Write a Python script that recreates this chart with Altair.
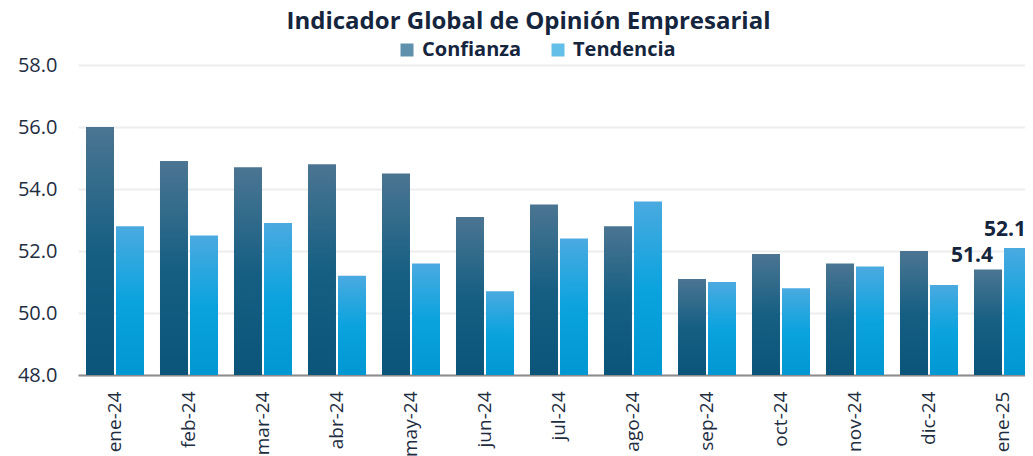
import altair as alt
import pandas as pd

meses = ["ene-24", "feb-24", "mar-24", "abr-24", "may-24", "jun-24", "jul-24",
         "ago-24", "sep-24", "oct-24", "nov-24", "dic-24", "ene-25"]
confianza = [56.0, 54.9, 54.7, 54.8, 54.5, 53.1, 53.5, 52.8, 51.1, 51.9, 51.6, 52.0, 51.4]
tendencia = [52.8, 52.5, 52.9, 51.2, 51.6, 50.7, 52.4, 53.6, 51.0, 50.8, 51.5, 50.9, 52.1]
series = ["Confianza", "Tendencia"]
y_ticks = [48, 50, 52, 54, 56, 58]

rows = []
for m, c, t in zip(meses, confianza, tendencia):
    rows.append({"mes": m, "serie": "Confianza", "valor": c})
    rows.append({"mes": m, "serie": "Tendencia", "valor": t})
df = pd.DataFrame(rows)

DARK = "#14253d"

def grad(stops):
    return {"gradient": "linear", "x1": 0, "x2": 0, "y1": 0, "y2": 1,
            "stops": [{"offset": o, "color": c} for o, c in stops]}

x_enc = alt.X("mes:N", sort=meses, title=None,
              scale=alt.Scale(domain=meses, paddingInner=0.216, paddingOuter=0.108, range=[0, 962]),
              axis=alt.Axis(labelAngle=-90, labelFont="Open Sans", labelFontSize=19,
                            labelColor="#1e2d3f", labelPadding=16, ticks=False,
                            domainColor="#8c8c8c", domainWidth=2, grid=False))
xo_enc = alt.XOffset("serie:N", scale=alt.Scale(domain=series, paddingInner=0.067))
y_enc = alt.Y("valor:Q", title=None,
              scale=alt.Scale(domain=[48, 58], zero=False, nice=False),
              axis=alt.Axis(values=y_ticks, format=".1f", labelFont="Open Sans", labelFontSize=20,
                            labelColor="#1e2d3f", labelPadding=21, ticks=False, domain=False,
                            gridColor="#ededed", gridWidth=2))

base = alt.Chart(df)

bars_c = base.transform_filter(alt.datum.serie == "Confianza").mark_bar(
    fill=grad([(0, "#4b7592"), (0.5, "#165f83"), (1, "#0b557a")])
).encode(x=x_enc, xOffset=xo_enc, y=y_enc, y2=alt.datum(48))

bars_t = base.transform_filter(alt.datum.serie == "Tendencia").mark_bar(
    fill=grad([(0, "#4aaae0"), (0.5, "#0ba3de"), (1, "#0097d3")])
).encode(x=x_enc, xOffset=xo_enc, y=y_enc, y2=alt.datum(48))

legend_layer = base.mark_square(size=0).encode(
    x=x_enc, xOffset=xo_enc, y=y_enc,
    color=alt.Color("serie:N", scale=alt.Scale(domain=series, range=["#1d6389", "#1ea4de"]),
                    legend=alt.Legend(title=None, orient="none", direction="horizontal",
                                      legendX=319, legendY=-25, symbolType="square",
                                      symbolSize=169, symbolStrokeWidth=0,
                                      labelFont="Open Sans", labelFontSize=20,
                                      labelFontWeight="bold", labelColor=DARK,
                                      labelOffset=5, columnPadding=26))
)

last = meses[-1]
lab_c = base.transform_filter(
    (alt.datum.serie == "Confianza") & (alt.datum.mes == last)
).mark_text(font="Open Sans", fontSize=21, fontWeight="bold", color=DARK,
            baseline="bottom", dx=-16, dy=-4).encode(
    x=x_enc, xOffset=xo_enc, y=y_enc, text=alt.Text("valor:Q", format=".1f"))

lab_t = base.transform_filter(
    (alt.datum.serie == "Tendencia") & (alt.datum.mes == last)
).mark_text(font="Open Sans", fontSize=21, fontWeight="bold", color=DARK,
            baseline="bottom", dx=-13, dy=-8).encode(
    x=x_enc, xOffset=xo_enc, y=y_enc, text=alt.Text("valor:Q", format=".1f"))

chart = alt.layer(bars_c, bars_t, legend_layer, lab_c, lab_t).properties(
    width=947, height=310,
    autosize=alt.AutoSizeParams(type="none"),
    padding={"left": 70, "top": 57, "right": 0, "bottom": 81},
    title=alt.TitleParams("Indicador Global de Opinión Empresarial", font="Open Sans",
                          fontSize=24, fontWeight="bold", color=DARK, anchor="middle",
                          dx=-23, offset=6),
).configure_view(stroke=None)

chart.save("out.html", embed_options={"renderer": "svg", "actions": False})
